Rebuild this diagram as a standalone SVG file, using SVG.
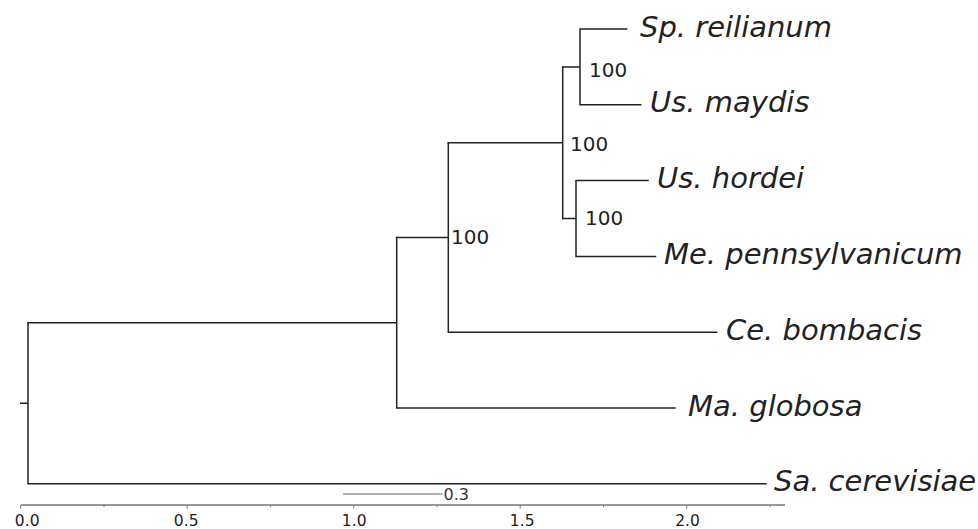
<svg xmlns="http://www.w3.org/2000/svg" width="978" height="529" viewBox="0 0 978 529">
<style>
.br{stroke:#222;stroke-width:1.5;fill:none;stroke-linecap:square}
.ax{stroke:#777;stroke-width:1.3;fill:none}
.tk{stroke:#777;stroke-width:1;fill:none}
.taxon{font-family:"DejaVu Sans",sans-serif;font-style:italic;font-size:29px;fill:#222}
.sup{font-family:"DejaVu Sans",sans-serif;font-size:20px;fill:#222}
.tl{font-family:"DejaVu Sans",sans-serif;font-size:15.5px;fill:#222;text-anchor:middle}
.sb{font-family:"DejaVu Sans",sans-serif;font-size:16px;fill:#333}
</style>
<rect width="978" height="529" fill="#fff"/>
<g id="connectors">
<path class="br" d="M20.7,403.25H28M28,322.7V483.8M28,483.8H766"/>
<path class="br" d="M28,322.7H396.7M396.7,237.45V408M396.7,408H675"/>
<path class="br" d="M396.7,237.45H448.3M448.3,142.7V332.2M448.3,332.2H716.7"/>
<path class="br" d="M448.3,142.7H562.7M562.7,66.9V218.5"/>
<path class="br" d="M562.7,66.9H580M580,29V104.8M580,29H626.7M580,104.8H640.7"/>
<path class="br" d="M562.7,218.5H576M576,180.6V256.4M576,180.6H648M576,256.4H655.5"/>
</g>
<g id="leaf-sp-reilianum"><text class="taxon" x="640" y="36.5">Sp. reilianum</text></g>
<g id="leaf-us-maydis"><text class="taxon" x="650" y="112.3">Us. maydis</text></g>
<g id="leaf-us-hordei"><text class="taxon" x="657" y="188.1">Us. hordei</text></g>
<g id="leaf-me-pennsylvanicum"><text class="taxon" x="664" y="263.9">Me. pennsylvanicum</text></g>
<g id="leaf-ce-bombacis"><text class="taxon" x="726" y="339.7">Ce. bombacis</text></g>
<g id="leaf-ma-globosa"><text class="taxon" x="688" y="415.5">Ma. globosa</text></g>
<g id="leaf-sa-cerevisiae"><text class="taxon" x="774" y="491.3">Sa. cerevisiae</text></g>
<g id="node-d"><text class="sup" x="589" y="76.7">100</text></g>
<g id="node-c"><text class="sup" x="570" y="150.7">100</text></g>
<g id="node-e"><text class="sup" x="585" y="225">100</text></g>
<g id="node-b"><text class="sup" x="451" y="244">100</text></g>
<g id="scale-bar">
<line x1="343" y1="494" x2="442.7" y2="494" stroke="#666" stroke-width="1.2"/>
<text class="sb" x="443.5" y="500">0.3</text>
</g>
<g id="axis">
<line class="ax" x1="20.7" y1="505" x2="785" y2="505"/>
<path class="tk" d="M20.7,505v3.5M187.2,505v3.5M353.7,505v3.5M520.2,505v3.5M686.7,505v3.5M104,505v2M270.5,505v2M437,505v2M603.5,505v2M770,505v2"/>
<text class="tl" x="27.2" y="526">0.0</text>
<text class="tl" x="186.2" y="526">0.5</text>
<text class="tl" x="354.2" y="526">1.0</text>
<text class="tl" x="522.2" y="526">1.5</text>
<text class="tl" x="687.5" y="526">2.0</text>
</g>
</svg>
